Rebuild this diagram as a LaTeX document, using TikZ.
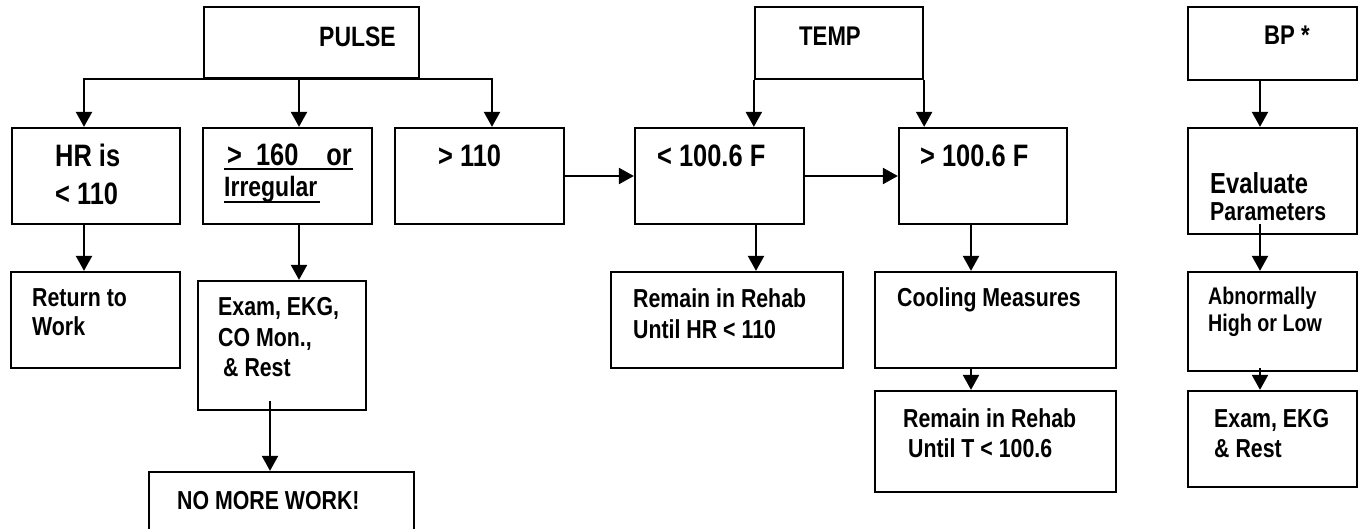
\documentclass[tikz,border=0pt]{standalone}
\usepackage{fontspec}
\setmainfont{Liberation Sans}[FakeStretch=0.82]
\usetikzlibrary{arrows.meta}
% subrayado grueso: [profundidad]{texto}
\newcommand{\subrayar}[2][4.5pt]{\setbox0\hbox{#2}\rlap{\rule[-#1]{\wd0}{2pt}}\box0}

\begin{document}
\begin{tikzpicture}[x=1pt, y=-1pt,
  caja/.style={draw, line width=2.3pt, inner sep=0pt},
  flecha/.style={line width=2.3pt, -{Triangle[width=16pt,length=15pt]}},
  txt/.style={inner sep=0pt, anchor=base west, align=left},
  tgr/.style={txt, font=\bfseries\fontsize{31}{38}\selectfont},
  tme/.style={txt, font=\bfseries\fontsize{26}{31}\selectfont},
  tpe/.style={txt, font=\bfseries\fontsize{24}{27}\selectfont}]
\useasboundingbox (0,0) rectangle (1363,529);

% Columna PULSE
\node[caja, minimum width=215pt, minimum height=71pt] (pulse) at (311.5,42.5) {};
\node[caja, minimum width=168pt, minimum height=96pt] (hr) at (96,176) {};
\node[caja, minimum width=169pt, minimum height=96pt] (irreg) at (287.5,176) {};
\node[caja, minimum width=169pt, minimum height=96pt] (mas110) at (479.5,176) {};
\node[caja, minimum width=169pt, minimum height=96pt] (volver) at (95.5,320) {};
\node[caja, minimum width=168pt, minimum height=129pt] (examen) at (282,345.5) {};
\node[caja, minimum width=265pt, minimum height=60pt] (nomas) at (281.5,502) {};

% Columna TEMP
\node[caja, minimum width=168pt, minimum height=72pt] (temp) at (839,43) {};
\node[caja, minimum width=169pt, minimum height=96pt] (menos1006) at (719.5,176) {};
\node[caja, minimum width=168pt, minimum height=96pt] (mas1006) at (983,176) {};
\node[caja, minimum width=232pt, minimum height=96pt] (rehabhr) at (727,320) {};
\node[caja, minimum width=241pt, minimum height=96pt] (enfriar) at (995.5,320) {};
\node[caja, minimum width=241pt, minimum height=101pt] (rehabt) at (995.5,441.5) {};

% Columna BP
\node[caja, minimum width=169pt, minimum height=73pt] (bp) at (1272.5,43.5) {};
\node[caja, minimum width=169pt, minimum height=106pt] (evaluar) at (1272.5,181) {};
\node[caja, minimum width=169pt, minimum height=99pt] (anormal) at (1272.5,321.5) {};
\node[caja, minimum width=169pt, minimum height=96pt] (examenbp) at (1272.5,439) {};

% Textos (base de la ultima linea)
\node[txt, font=\bfseries\fontsize{28}{31}\selectfont] (tpulse) at (319,47) {PULSE};
\node[tgr] (thr) at (55,205) {HR is\\< 110};
\node[tgr, font=\bfseries\fontsize{31}{31}\selectfont] (tirreg) at (224,197)
  {\subrayar{\hspace{3pt}>\hspace{14pt}160\hspace{28pt}or\hspace{1pt}}\\
   {\fontsize{28}{31}\selectfont\subrayar[6.5pt]{Irregular\hspace{3pt}}}};
\node[tgr] (tmas110) at (438,167) {> 110};
\node[tme, font=\bfseries\fontsize{26}{29}\selectfont] (tvolver) at (32,336) {Return to\\Work};
\node[tme] (texamen) at (218,377) {Exam, EKG,\\CO Mon.,\\\hspace*{5pt}\& Rest};
\node[tme] (tnomas) at (177,509) {NO MORE WORK!};
\node[txt, font=\bfseries\fontsize{27}{31}\selectfont] (ttemp) at (799,46) {TEMP};
\node[tgr] (tmenos) at (657,167) {< 100.6 F};
\node[tgr] (tmas) at (920,167) {> 100.6 F};
\node[tme] (trehabhr) at (633,338) {Remain in Rehab\\Until HR < 110};
\node[txt, font=\bfseries\fontsize{26}{30}\selectfont] (tenfriar) at (897,307) {Cooling Measures};
\node[tme, font=\bfseries\fontsize{26}{30}\selectfont] (trehabt) at (903,457) {Remain in Rehab\\\hspace*{5pt}Until T < 100.6};
\node[txt, font=\bfseries\fontsize{27}{31}\selectfont] (tbp) at (1264,45) {BP *};
\node[txt, font=\bfseries\fontsize{29}{27}\selectfont] (tevaluar) at (1210,221) {Evaluate\\{\fontsize{26}{27}\selectfont Parameters}};
\node[tpe] (tanormal) at (1208,332) {Abnormally\\High or Low};
\node[tme, font=\bfseries\fontsize{26}{30}\selectfont] (texamenbp) at (1214,457) {Exam, EKG\\\& Rest};

% Conectores PULSE
\draw[flecha] (pulse.south) -| ([xshift=-12pt]hr.north);
\draw[flecha] ([xshift=11.5pt]irreg.north |- pulse.south) -- ([xshift=11.5pt]irreg.north);
\draw[flecha] (pulse.south) -| ([xshift=12.5pt]mas110.north);
\draw[flecha] ([xshift=-12pt]hr.south) -- ([xshift=-12pt]hr.south |- volver.north);
\draw[flecha] ([xshift=11.5pt]irreg.south) -- ([xshift=11.5pt]irreg.south |- examen.north);
\draw[flecha] ([xshift=-12pt,yshift=10pt]examen.south) -- ([xshift=-12pt]examen.south |- nomas.north);

% Conectores TEMP
\draw[flecha] (mas110.east) -- (menos1006.west);
\draw[flecha] (menos1006.east) -- (mas1006.west);
\draw[flecha] (temp.south west) -- (temp.south west |- menos1006.north);
\draw[flecha] (temp.south east) -- (temp.south east |- mas1006.north);
\draw[flecha] ([xshift=36.5pt]menos1006.south) -- ([xshift=36.5pt]menos1006.south |- rehabhr.north);
\draw[flecha] ([xshift=-12pt]mas1006.south) -- ([xshift=-12pt]mas1006.south |- enfriar.north);
\draw[flecha] ([xshift=-24.5pt]enfriar.south) -- ([xshift=-24.5pt]enfriar.south |- rehabt.north);

% Conectores BP
\draw[flecha] ([xshift=-12.5pt]bp.south) -- ([xshift=-12.5pt]bp.south |- evaluar.north);
\draw[flecha] ([xshift=-12.5pt,yshift=11pt]evaluar.south) -- ([xshift=-12.5pt]evaluar.south |- anormal.north);
\draw[flecha] ([xshift=-12.5pt,yshift=4pt]anormal.south) -- ([xshift=-12.5pt]anormal.south |- examenbp.north);
\end{tikzpicture}
\end{document}
